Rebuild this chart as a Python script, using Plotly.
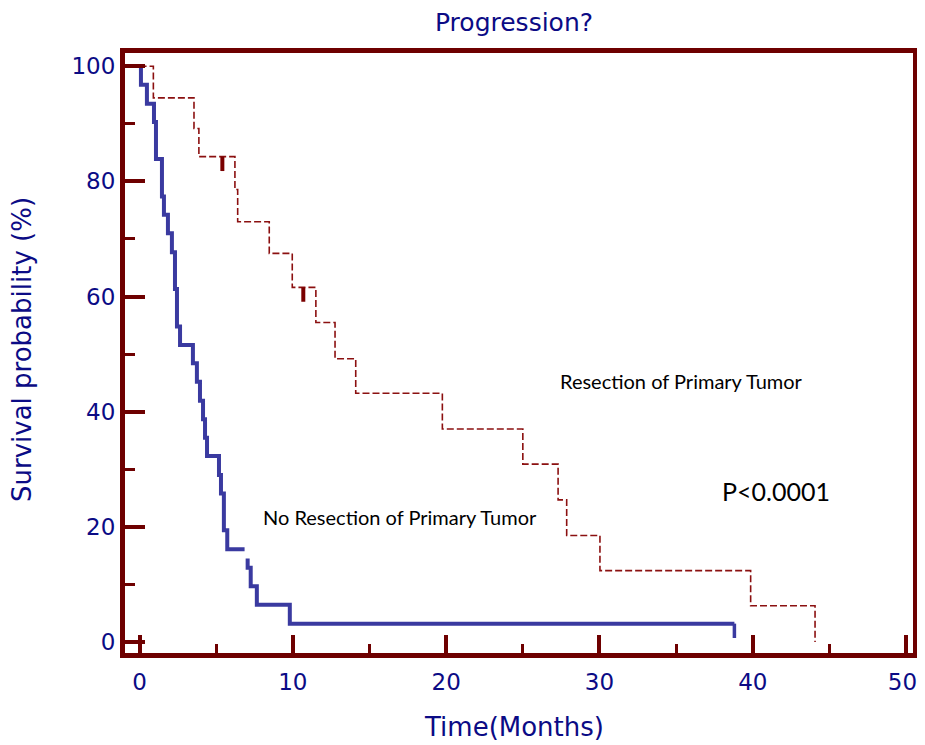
import plotly.graph_objects as go

# ---- data ----
# No resection of primary tumor (blue, solid)
blue_t1 = [0, 0.09, 0.48, 0.94, 1.07, 1.46, 1.59, 1.85, 2.11, 2.31, 2.44, 2.64,
           3.48, 3.74, 3.94, 4.14, 4.27, 4.40, 5.18, 5.31, 5.50, 5.72, 6.85]
blue_s1 = [100, 96.8, 93.5, 90.3, 83.9, 77.4, 74.2, 71.0, 67.7, 61.3, 54.8, 51.6,
           48.4, 45.2, 41.9, 38.7, 35.5, 32.3, 29.0, 25.8, 19.4, 16.1, 16.1]
blue_t2 = [7.05, 7.05, 7.25, 7.65, 9.8, 38.8]
blue_s2 = [14.5, 12.9, 9.7, 6.5, 3.2, 3.2]
blue_cens_t = [38.8]
blue_cens_s = [3.2]

# Resection of primary tumor (dark red, dashed)
red_t = [0, 0.9, 3.55, 3.87, 6.22, 6.4, 8.46, 9.96, 11.5, 12.75, 14.1, 19.75,
         25.0, 27.3, 27.86, 30.03, 39.86, 44.06]
red_s = [100, 94.5, 89.2, 84.3, 78.6, 73.0, 67.5, 61.6, 55.5, 49.2, 43.2, 37.0,
         30.9, 24.7, 18.5, 12.4, 6.3, 0]
red_cens_t = [5.4, 10.68]
red_cens_s = [84.3, 61.6]

x_ticks = [0, 10, 20, 30, 40, 50]
x_ticktext = ["0", "10", "20", "30", "40", "50\u00a0"]
y_ticks = [0, 20, 40, 60, 80, 100]

NAVY = "#0b0b85"
FRAME = "#6e0000"
BLUE = "#3a3aa0"
RED = "#8b1010"
CENS_DROP = 2.5

# the page body has an 8px margin, so the figure is sized to fill the rest
W, H = 917, 737
L, R, T, B = 117, 12, 45, 92

def cens_segments(ts, ss):
    xs, ys = [], []
    for t, s in zip(ts, ss):
        xs += [t, t, None]
        ys += [s, s - CENS_DROP, None]
    return xs, ys

fig = go.Figure()

fig.add_trace(go.Scatter(x=red_t, y=red_s, mode="lines", line_shape="hv",
                         line=dict(color=RED, width=1.6, dash="7px,3px"),
                         showlegend=False, hoverinfo="skip"))
cx, cy = cens_segments(red_cens_t, red_cens_s)
fig.add_trace(go.Scatter(x=cx, y=cy, mode="lines",
                         line=dict(color="#7a0000", width=4),
                         showlegend=False, hoverinfo="skip"))

bx = blue_t1 + [None] + blue_t2
by = blue_s1 + [None] + blue_s2
fig.add_trace(go.Scatter(x=bx, y=by, mode="lines", line_shape="hv",
                         line=dict(color=BLUE, width=4), connectgaps=False,
                         showlegend=False, hoverinfo="skip"))
cx, cy = cens_segments(blue_cens_t, blue_cens_s)
fig.add_trace(go.Scatter(x=cx, y=cy, mode="lines",
                         line=dict(color=BLUE, width=3.5),
                         showlegend=False, hoverinfo="skip"))

tickfont = dict(family="DejaVu Sans", size=23, color=NAVY)

fig.update_xaxes(range=[-0.95, 50.45], tickvals=x_ticks, ticktext=x_ticktext,
                 showgrid=False, zeroline=False, showline=True, linewidth=5,
                 linecolor=FRAME, mirror=True, ticks="inside", ticklen=18,
                 tickwidth=4, tickcolor=FRAME, tickfont=tickfont,
                 ticklabelstandoff=4, automargin=False, ticklabeloverflow="allow",
                 minor=dict(dtick=5, tick0=0, ticks="inside", ticklen=9,
                            tickwidth=3, tickcolor=FRAME, showgrid=False))
fig.update_yaxes(range=[-1.9, 102.3], tickvals=y_ticks, ticktext=[str(v) for v in y_ticks],
                 showgrid=False, zeroline=False, showline=True, linewidth=5,
                 linecolor=FRAME, mirror=True, ticks="inside", ticklen=20,
                 tickwidth=4, tickcolor=FRAME, tickfont=tickfont, automargin=False,
                 ticklabeloverflow="allow",
                 minor=dict(dtick=10, tick0=0, ticks="inside", ticklen=10,
                            tickwidth=3, tickcolor=FRAME, showgrid=False))

fig.update_layout(
    width=W, height=H,
    margin=dict(l=L, r=R, t=T, b=B),
    paper_bgcolor="white", plot_bgcolor="white",
    title=dict(text="Progression?", x=506 / W, xanchor="center",
               y=1 - 14 / H, yanchor="middle", xref="container", yref="container",
               font=dict(family="DejaVu Sans", size=25, color=NAVY)),
    annotations=[
        dict(text="Time(Months)", xref="paper", yref="paper",
             x=(506 - L) / (W - L - R), y=0, yshift=-74, showarrow=False,
             yanchor="middle",
             font=dict(family="DejaVu Sans", size=26, color=NAVY)),
        dict(text="Survival probability (%)", xref="paper", yref="paper", x=0,
             xshift=-(L - 14), y=0.5, yshift=3, textangle=-90,
             showarrow=False, xanchor="center",
             font=dict(family="DejaVu Sans", size=26, color=NAVY)),
        dict(text="Resection of Primary Tumor", x=35.35, y=45.3, xref="x", yref="y",
             showarrow=False, font=dict(family="Lato", size=20, color="black")),
        dict(text="No Resection of Primary Tumor", x=17.0, y=21.7, xref="x", yref="y",
             showarrow=False, font=dict(family="Lato", size=20, color="black")),
        dict(text="P<0.0001", x=41.5, y=26.2, xref="x", yref="y",
             showarrow=False, font=dict(family="Lato", size=25, color="black")),
    ],
)

fig.write_html("out.html")
